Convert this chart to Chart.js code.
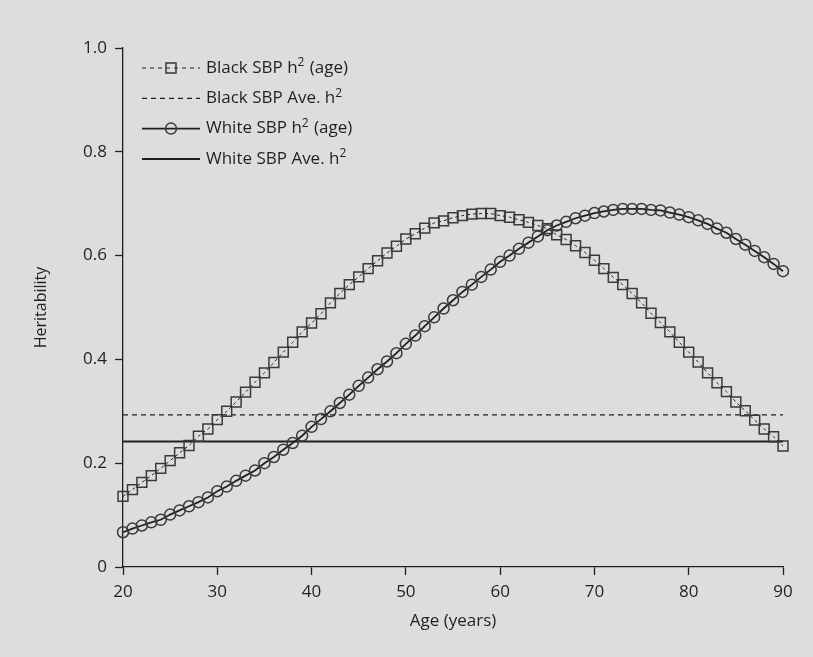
<!DOCTYPE html>
<html>
<head>
<meta charset="utf-8">
<script src="https://cdn.jsdelivr.net/npm/chart.js@4"></script>
<style>
  html, body { margin: 0; padding: 0; background: #dcdddf; }
  #wrap { width: 813px; height: 657px; }
</style>
</head>
<body>
<div id="wrap"><canvas id="myChart" width="813" height="657"></canvas></div>
<script>
const ages = [
  20, 21, 22, 23, 24, 25, 26, 27, 28, 29,
  30, 31, 32, 33, 34, 35, 36, 37, 38, 39,
  40, 41, 42, 43, 44, 45, 46, 47, 48, 49,
  50, 51, 52, 53, 54, 55, 56, 57, 58, 59,
  60, 61, 62, 63, 64, 65, 66, 67, 68, 69,
  70, 71, 72, 73, 74, 75, 76, 77, 78, 79,
  80, 81, 82, 83, 84, 85, 86, 87, 88, 89, 90
];

const blackH2 = [
  0.136, 0.149, 0.163, 0.176, 0.190, 0.205, 0.220, 0.234, 0.252, 0.266,
  0.284, 0.300, 0.318, 0.337, 0.356, 0.374, 0.394, 0.414, 0.433, 0.453,
  0.470, 0.488, 0.509, 0.527, 0.544, 0.559, 0.575, 0.590, 0.605, 0.618,
  0.632, 0.642, 0.653, 0.663, 0.667, 0.673, 0.677, 0.680, 0.681, 0.681,
  0.677, 0.674, 0.669, 0.664, 0.658, 0.652, 0.640, 0.631, 0.619, 0.606,
  0.591, 0.575, 0.558, 0.544, 0.527, 0.509, 0.489, 0.471, 0.453, 0.433,
  0.414, 0.395, 0.374, 0.355, 0.338, 0.318, 0.301, 0.283, 0.266, 0.251, 0.233
];

const whiteH2 = [
  0.067, 0.074, 0.080, 0.086, 0.091, 0.101, 0.109, 0.117, 0.125, 0.134,
  0.146, 0.155, 0.166, 0.176, 0.186, 0.200, 0.212, 0.226, 0.239, 0.253,
  0.270, 0.285, 0.300, 0.316, 0.332, 0.349, 0.365, 0.381, 0.396, 0.412,
  0.430, 0.446, 0.464, 0.481, 0.498, 0.514, 0.530, 0.544, 0.559, 0.573,
  0.588, 0.600, 0.613, 0.625, 0.637, 0.649, 0.658, 0.665, 0.672, 0.677,
  0.682, 0.685, 0.688, 0.690, 0.690, 0.690, 0.688, 0.687, 0.683, 0.679,
  0.674, 0.668, 0.661, 0.652, 0.644, 0.632, 0.621, 0.609, 0.597, 0.584, 0.570
];

const blackAve = 0.293;
const whiteAve = 0.242;

const xTicks = [20, 30, 40, 50, 60, 70, 80, 90];
const yTicks = [0, 0.2, 0.4, 0.6, 0.8, 1.0];

const FONT = '"Open Sans", "Liberation Sans", sans-serif';
const INK = '#231f20';
const MARK = '#3a3a3a';

const pts = (ys) => ages.map((a, i) => ({ x: a, y: ys[i] }));
const flat = (v) => [{ x: ages[0], y: v }, { x: ages[ages.length - 1], y: v }];

// legend rows: text pieces, [text, superscript?]
const legendRows = [
  { parts: [['Black SBP h', 0], ['2', 1], [' (age)', 0]], dash: [4, 4], lw: 1, marker: 'square' },
  { parts: [['Black SBP Ave. h', 0], ['2', 1]], dash: [5, 4], lw: 1.3, marker: null },
  { parts: [['White SBP h', 0], ['2', 1], [' (age)', 0]], dash: [], lw: 1.8, marker: 'circle' },
  { parts: [['White SBP Ave. h', 0], ['2', 1]], dash: [], lw: 2, marker: null }
];

const legendPlugin = {
  id: 'sketchLegend',
  afterDraw(chart) {
    const ctx = chart.ctx;
    const x0 = chart.chartArea.left + 19;
    ctx.save();
    legendRows.forEach((row, i) => {
      const y = chart.chartArea.top + 20 + i * 30.3;
      ctx.strokeStyle = INK;
      ctx.lineWidth = row.lw;
      ctx.setLineDash(row.dash);
      ctx.beginPath();
      ctx.moveTo(x0, y);
      ctx.lineTo(x0 + 58, y);
      ctx.stroke();
      ctx.setLineDash([]);
      if (row.marker) {
        ctx.strokeStyle = MARK;
        ctx.lineWidth = 1.5;
        ctx.beginPath();
        if (row.marker === 'square') ctx.rect(x0 + 24, y - 5, 10, 10);
        else ctx.arc(x0 + 29, y, 5.5, 0, Math.PI * 2);
        ctx.stroke();
      }
      let tx = x0 + 64;
      ctx.fillStyle = INK;
      ctx.textBaseline = 'middle';
      row.parts.forEach(([t, sup]) => {
        ctx.font = (sup ? '12px ' : '17px ') + FONT;
        ctx.fillText(t, tx, sup ? y - 5 : y);
        tx += ctx.measureText(t).width + (sup ? 1 : 0);
      });
    });
    ctx.restore();
  }
};

const data = {
  datasets: [
    {
      label: 'Black SBP h2 (age)',
      data: pts(blackH2),
      borderColor: INK,
      borderWidth: 1,
      borderDash: [3, 3],
      pointStyle: 'rect',
      pointRadius: 7,
      pointBorderWidth: 1.5,
      pointBorderColor: MARK,
      pointBackgroundColor: 'rgba(0,0,0,0)',
      tension: 0
    },
    {
      label: 'Black SBP Ave. h2',
      data: flat(blackAve),
      borderColor: INK,
      borderWidth: 1.3,
      borderDash: [5, 4],
      pointRadius: 0
    },
    {
      label: 'White SBP h2 (age)',
      data: pts(whiteH2),
      borderColor: INK,
      borderWidth: 1.8,
      pointStyle: 'circle',
      pointRadius: 5.5,
      pointBorderWidth: 1.5,
      pointBorderColor: MARK,
      pointBackgroundColor: 'rgba(0,0,0,0)',
      tension: 0
    },
    {
      label: 'White SBP Ave. h2',
      data: flat(whiteAve),
      borderColor: INK,
      borderWidth: 2,
      pointRadius: 0
    }
  ]
};

const config = {
  type: 'line',
  data: data,
  options: {
    responsive: false,
    animation: false,
    clip: false,
    layout: { padding: { left: 0, right: 30, top: 48, bottom: 0 } },
    plugins: {
      legend: { display: false },
      tooltip: { enabled: false }
    },
    scales: {
      x: {
        type: 'linear',
        min: 20,
        max: 90,
        afterBuildTicks: (s) => { s.ticks = xTicks.map(v => ({ value: v })); },
        afterFit: (s) => { s.height = 90; },
        ticks: { color: INK, font: { family: FONT, size: 17 }, padding: 7 },
        grid: { drawOnChartArea: false, tickLength: 8, tickColor: INK, tickWidth: 1.3 },
        border: { color: INK, width: 1.3 },
        title: { display: true, text: 'Age (years)', color: INK, font: { family: FONT, size: 17 }, padding: { top: 6, bottom: 26 } }
      },
      y: {
        type: 'linear',
        min: 0,
        max: 1,
        afterBuildTicks: (s) => { s.ticks = yTicks.map(v => ({ value: v })); },
        afterFit: (s) => { s.width = 123; },
        ticks: {
          color: INK,
          font: { family: FONT, size: 17 },
          padding: 8,
          callback: (v) => v === 0 ? '0' : v.toFixed(1)
        },
        grid: { drawOnChartArea: false, tickLength: 8, tickColor: INK, tickWidth: 1.3 },
        border: { color: INK, width: 1.3 },
        title: { display: true, text: 'Heritability', color: INK, font: { family: FONT, size: 16 }, padding: { top: 32, bottom: 0 } }
      }
    }
  },
  plugins: [legendPlugin]
};

const myChart = new Chart(document.getElementById('myChart'), config);
</script>
</body>
</html>
